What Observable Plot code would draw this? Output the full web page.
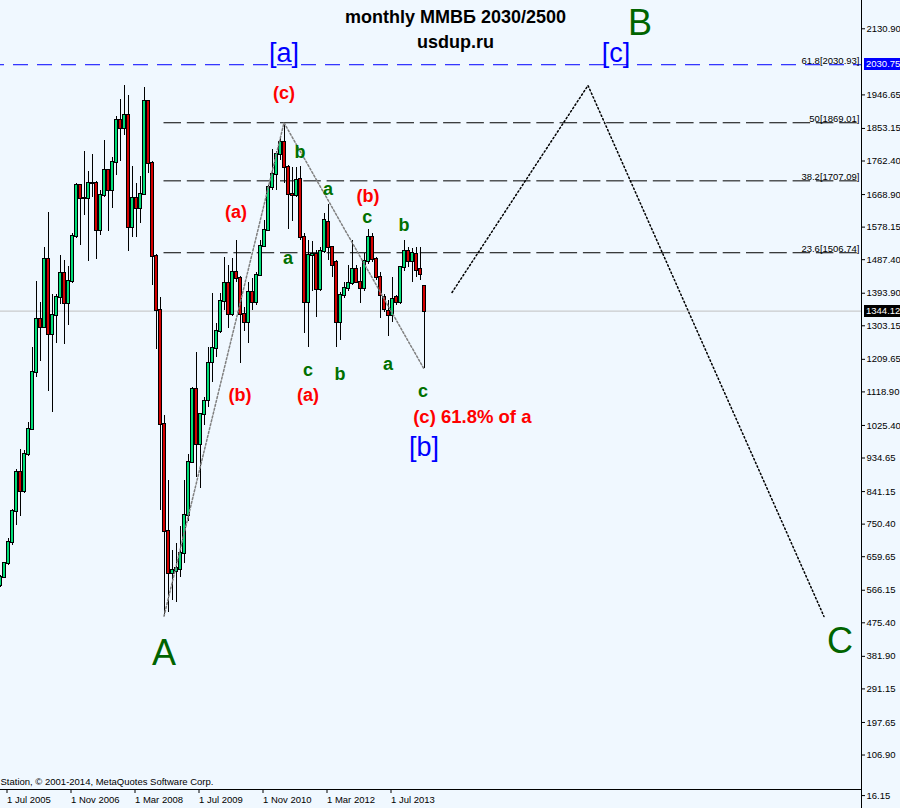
<!DOCTYPE html>
<html><head><meta charset="utf-8">
<script src="https://cdn.jsdelivr.net/npm/d3@7"></script>
<script src="https://cdn.jsdelivr.net/npm/@observablehq/plot@0.6"></script>
<style>
html,body{margin:0;padding:0;background:#F0F8FF;}
#chart svg{display:block;}
</style></head><body><div id="chart"></div>
<script>
// Monthly candles, first (partial) candle = Jun 2005, month index m = position in arrays
const open = [580,602,640,700,786,893,842,944,1013,1172,1320,1299,1487,1280,1331,1381,1448,1366,1426,1551,1693,1657,1659,1699,1700,1570,1665,1735,1680,1759,1876,1852,1888,1576,1659,1630,1668,1927,1755,1495,1347,1027,731,612,619,625,668,774,922,1125,971,1056,1094,1200,1240,1288,1370,1420,1335,1451,1436,1335,1311,1397,1369,1443,1524,1569,1688,1724,1781,1815,1743,1668,1667,1710,1548,1367,1499,1502,1403,1511,1590,1522,1480,1311,1388,1406,1422,1459,1425,1406,1481,1548,1487,1439,1383,1343,1332,1381,1367,1465,1510,1481,1502,1459,1413];
const high = [606,644,710,790,902,957,956,1034,1244,1427,1367,1520,1618,1390,1390,1498,1485,1468,1560,1699,1697,1790,1732,1780,1706,1680,1819,1739,1771,1886,1934,1972,1944,1747,1699,1718,1968,1929,1760,1502,1382,1054,873,677,696,744,872,944,1130,1228,1060,1104,1242,1393,1309,1392,1494,1471,1490,1541,1440,1355,1425,1434,1453,1541,1597,1694,1794,1790,1824,1869,1750,1743,1745,1747,1560,1541,1538,1512,1522,1615,1640,1525,1485,1397,1425,1471,1541,1471,1467,1504,1571,1560,1494,1453,1390,1374,1439,1388,1468,1541,1522,1518,1522,1522,1413];
const low = [575,598,635,691,747,772,837,940,1010,1158,1205,1295,1121,1062,1255,1363,1251,1304,1422,1547,1527,1611,1483,1660,1487,1555,1662,1567,1630,1723,1761,1833,1509,1550,1550,1589,1665,1728,1416,1238,787,494,504,538,533,603,640,759,918,881,851,1025,1075,1146,1216,1283,1346,1295,1330,1425,1197,1288,1255,1346,1360,1440,1520,1565,1680,1680,1764,1699,1571,1594,1660,1540,1281,1244,1400,1327,1400,1505,1485,1439,1244,1262,1380,1400,1415,1420,1364,1400,1475,1480,1430,1323,1340,1272,1313,1360,1362,1455,1467,1425,1439,1429,1183];
const close = [602,640,700,786,893,842,944,1013,1172,1320,1299,1487,1280,1331,1381,1448,1366,1426,1551,1693,1657,1659,1699,1700,1570,1665,1735,1680,1759,1874,1852,1888,1576,1659,1630,1668,1927,1755,1495,1347,1027,731,612,621,627,668,774,922,1125,971,1056,1092,1197,1240,1288,1370,1420,1335,1451,1436,1335,1311,1397,1369,1443,1524,1569,1688,1724,1781,1815,1743,1668,1667,1708,1548,1367,1499,1502,1403,1511,1597,1522,1471,1313,1388,1406,1422,1459,1425,1406,1481,1548,1487,1439,1388,1348,1332,1376,1367,1465,1510,1481,1506,1457,1446,1344.12];

const yTicks = [2130.90,1946.65,1853.15,1762.40,1668.90,1578.15,1487.40,1393.90,1303.15,1209.65,1118.90,1025.40,934.65,841.15,750.40,659.65,566.15,475.40,381.90,291.15,197.65,106.90];
const yBottomTick = [16.15];
const xTickMonths = [1,17,33,49,65,81,97];
const xTickLabels = ["1 Jul 2005","1 Nov 2006","1 Mar 2008","1 Jul 2009","1 Nov 2010","1 Mar 2012","1 Jul 2013"];

const currentPrice = 1344.12;
const targetLevel = 2030.75;
const fibLevels = [1869.01,1707.09,1506.74];
const fibLabelLevels = [2030.93,1869.01,1707.09,1506.74];
const fibLabels = ["61.8[2030.93]","50[1869.01]","38.2[1707.09]","23.6[1506.74]"];
const fibStartMonth = 41;

const zigMonths = [41,71,106];
const zigPrices = [494,1869,1183];
const projMonths = [113,147,206];
const projPrices = [1396,1973,493];

const redText = ["(c)","(a)","(b)","(b)","(a)"];
const redMonths = [71,59,92,60,77];
const redPrices = [1951,1620,1665,1109,1110];
const noteText = ["(c) 61.8% of a"];
const noteMonths = [103.3];
const notePrices = [1050];
const greenText = ["b","a","c","b","a","c","b","a","c"];
const greenMonths = [75,82,91.8,101,72,77,85,97,105.75];
const greenPrices = [1786,1683,1606,1583,1492,1179,1167,1195,1120];
const blueText = ["[a]","[c]","[b]"];
const blueMonths = [71,154,106];
const bluePrices = [2063,2063,963];
const bigText = ["A","B","C"];
const bigMonths = [41,160,210];
const bigPrices = [390,2147,424];

const candles = open.map((o,i)=>({m:i,o,h:high[i],l:low[i],c:close[i]}));
const rows = (t,m,p)=>t.map((s,i)=>({t:s,m:m[i],p:p[i]}));
const xDomain = [0.125, 215.375];
const yDomain = [10.8, 2209.75];
const bull = "#00DE78", bear = "#D40000";
const font = "'Liberation Sans', Arial, sans-serif";
const tickLabel = new Map(xTickMonths.map((m,i)=>[m,xTickLabels[i]]));

const chart = Plot.plot({
  width: 900, height: 808,
  marginLeft: 0, marginRight: 39, marginTop: 0, marginBottom: 19,
  style: {background: "#F0F8FF", fontFamily: font, fontSize: "9.5px", color: "black"},
  x: {domain: xDomain, axis: null},
  y: {domain: yDomain, axis: null},
  marks: [
    Plot.ruleY([currentPrice], {stroke: "#C0C0C0", x1: xDomain[0], x2: xDomain[1]}),
    Plot.ruleY([targetLevel], {stroke: "#0000FF", strokeDasharray: "15,9", strokeDashoffset: 11, x1: xDomain[0], x2: xDomain[1]}),
    Plot.ruleY(fibLevels, {y: d=>d, x1: fibStartMonth, x2: xDomain[1], stroke: "black", strokeDasharray: "17.5,5.8"}),
    Plot.text(fibLabelLevels, {y: d=>d, x: xDomain[1], text: (d,i)=>fibLabels[i], textAnchor: "end", lineAnchor: "bottom", dx: -2, dy: -1, fontSize: 9.5, fill: "black"}),
    Plot.ruleX(candles, {x: "m", y1: "l", y2: "h", stroke: "black", strokeWidth: 1, shapeRendering: "crispEdges"}),
    Plot.rect(candles, {x1: d=>d.m-0.375, x2: d=>d.m+0.375, y1: d=>Math.min(d.o,d.c), y2: d=>Math.max(d.o,d.c),
      fill: d=>d.c>=d.o?bull:bear, stroke: "black", strokeWidth: 1, insetTop: -0.5, insetBottom: -0.5, shapeRendering: "crispEdges"}),
    Plot.line(zigMonths.map((m,i)=>({m,p:zigPrices[i]})), {x: "m", y: "p", stroke: "#808080", strokeDasharray: "2,2"}),
    Plot.line(projMonths.map((m,i)=>({m,p:projPrices[i]})), {x: "m", y: "p", stroke: "black", strokeDasharray: "1.5,2.5"}),
    Plot.ruleY([yDomain[0]], {stroke: "black", x1: xDomain[0], x2: xDomain[1]}),
    Plot.ruleX([xDomain[1]], {stroke: "black", insetBottom: -19}),
    Plot.axisY(yTicks, {anchor: "right", tickSize: 3, tickPadding: 2, tickFormat: d=>d.toFixed(2), label: null, fontSize: 9.5, textAnchor: "start"}),
    Plot.axisY(yBottomTick, {anchor: "right", tickSize: 3, tickPadding: 2, tickFormat: d=>d.toFixed(2), label: null, fontSize: 9.5, textAnchor: "start", dy: 8}),
    Plot.axisX(xTickMonths, {anchor: "bottom", tickSize: 4, tickPadding: 3, tickFormat: d=>tickLabel.get(d), label: null, fontSize: 9.5, textAnchor: "start", dx: 3}),
    Plot.text(["Station, © 2001-2014, MetaQuotes Software Corp."], {frameAnchor: "bottom-left", textAnchor: "start", lineAnchor: "middle", dy: -8, fontSize: 9.5, fill: "black"}),
    Plot.text(["monthly ММВБ 2030/2500"], {frameAnchor: "top", lineAnchor: "middle", dx: 24.5, dy: 16.5, fontSize: 18, fontWeight: "bold", fill: "black"}),
    Plot.text(["usdup.ru"], {frameAnchor: "top", lineAnchor: "middle", dx: 24.5, dy: 41.5, fontSize: 18, fontWeight: "bold", fill: "black"}),
    Plot.text(rows(redText,redMonths,redPrices), {x: "m", y: "p", text: "t", fill: "#FF0000", fontSize: 18, fontWeight: "bold", lineAnchor: "middle"}),
    Plot.text(rows(noteText,noteMonths,notePrices), {x: "m", y: "p", text: "t", fill: "#FF0000", fontSize: 18.5, fontWeight: "bold", lineAnchor: "middle", textAnchor: "start"}),
    Plot.text(rows(greenText,greenMonths,greenPrices), {x: "m", y: "p", text: "t", fill: "#007000", fontSize: 18, fontWeight: "bold", lineAnchor: "middle"}),
    Plot.text(rows(blueText,blueMonths,bluePrices), {x: "m", y: "p", text: "t", fill: "#0000FF", fontSize: 27, lineAnchor: "middle"}),
    Plot.text(rows(bigText,bigMonths,bigPrices), {x: "m", y: "p", text: "t", fill: "#006400", fontSize: 36, lineAnchor: "middle"})
  ]
});

// price tags on the right scale
const ys = chart.scale("y");
const svg = d3.select(chart);
function priceTag(v, bg) {
  const y = Math.round(ys.apply(v));
  const g = svg.append("g");
  g.append("rect").attr("x", 864).attr("y", y - 6).attr("width", 36).attr("height", 12).attr("fill", bg);
  g.append("text").attr("x", 866).attr("y", y).attr("dy", "0.35em").attr("fill", "white")
    .attr("text-anchor", "start").attr("font-size", 9.5).attr("font-family", font).text(v.toFixed(2));
}
priceTag(targetLevel, "#0000FF");
priceTag(currentPrice, "#000000");
document.getElementById("chart").append(chart);
</script>
</body></html>
